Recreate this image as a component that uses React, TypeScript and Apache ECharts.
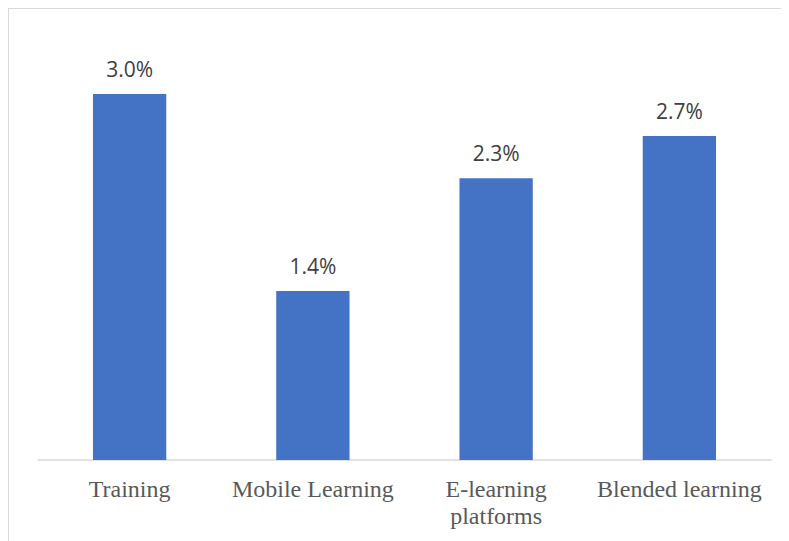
import React, { useEffect, useRef } from "react";
import * as echarts from "echarts";

const categories = ["Training", "Mobile Learning", "E-learning\nplatforms", "Blended learning"];
const values = [3.0, 1.385, 2.31, 2.655];

export default function App() {
  const ref = useRef<HTMLDivElement>(null);
  useEffect(() => {
    if (!ref.current) return;
    const chart = echarts.init(ref.current, null, { renderer: "svg" });
    chart.setOption({
      animation: false,
      grid: { left: 29, right: 18, top: 24, bottom: 81 },
      xAxis: {
        type: "category",
        data: categories,
        axisLine: { lineStyle: { color: "#d9d9d9", width: 1.5 } },
        axisTick: { show: false },
        axisLabel: {
          color: "#595959",
          fontFamily: "Liberation Serif",
          fontSize: 24,
          lineHeight: 27,
          margin: 15,
          interval: 0,
        },
      },
      yAxis: {
        type: "value",
        min: 0,
        max: 3.5,
        show: false,
        splitLine: { show: false },
      },
      series: [
        {
          type: "bar",
          data: values,
          barCategoryGap: "60%",
          itemStyle: { color: "#4472C4" },
          label: {
            show: true,
            position: "top",
            distance: 15,
            color: "#404040",
            fontFamily: "Open Sans",
            fontSize: 21,
            formatter: (p: any) => p.value.toFixed(1) + "%",
          },
        },
      ],
    });
    return () => chart.dispose();
  }, []);
  return (
    <div
      ref={ref}
      style={{
        width: 780,
        height: 532,
        borderLeft: "1px solid #d9d9d9",
        borderTop: "1px solid #d9d9d9",
      }}
    />
  );
}
